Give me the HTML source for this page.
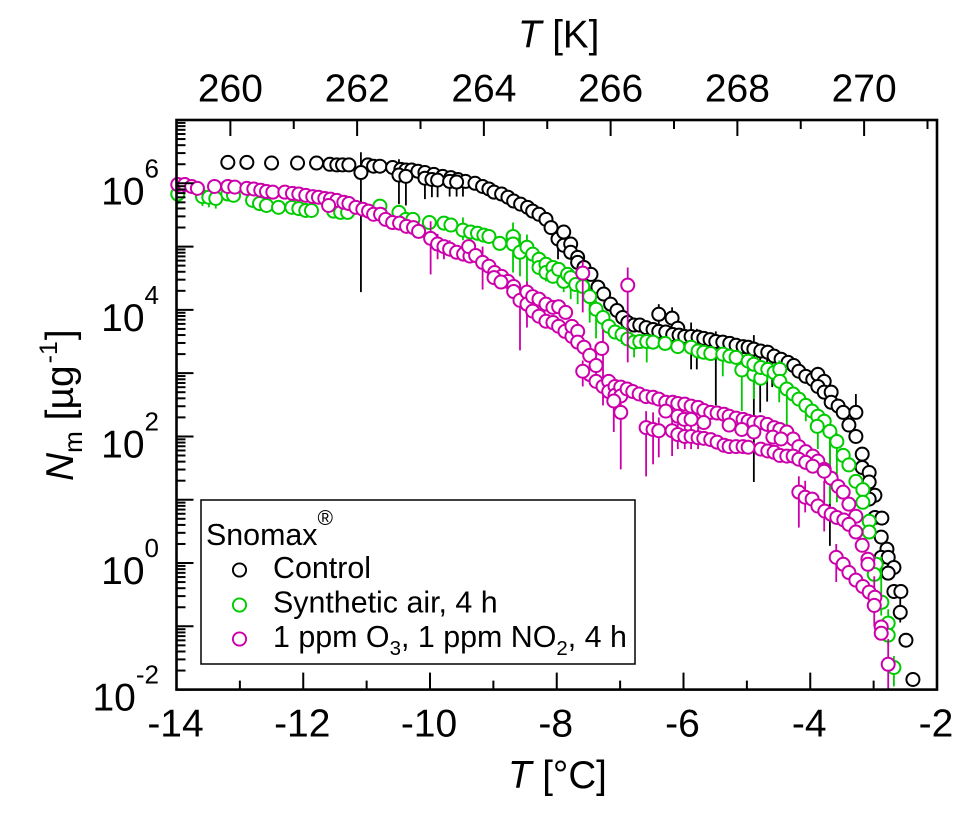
<!DOCTYPE html>
<html lang="en">
<head>
<meta charset="utf-8">
<title>Snomax ice nucleation spectra</title>
<style>
html,body{margin:0;padding:0;background:#fff;width:977px;height:815px;overflow:hidden}
svg{display:block}
text{font-family:"Liberation Sans",sans-serif;fill:#000}
</style>
</head>
<body>
<svg id="chart" xmlns="http://www.w3.org/2000/svg" width="977" height="815" viewBox="0 0 977 815">
  <g id="series-layer"></g>
  <g id="axis-layer"></g>
  <text x="518" y="47.5" font-size="38.5"><tspan font-style="italic">T</tspan> [K]</text>
  <text x="508" y="788" font-size="38.5"><tspan font-style="italic">T</tspan> [°C]</text>
  <text transform="translate(73 481) rotate(-90)" font-size="39"><tspan font-style="italic">N</tspan><tspan font-size="26" dy="9">m</tspan><tspan dy="-9"> [µg</tspan><tspan font-size="25" dy="-16" dx="2">-1</tspan><tspan dy="16" dx="1">]</tspan></text>
  <g>
    <rect x="201" y="500" width="434" height="164" fill="#fff" stroke="#000" stroke-width="1.5"/>
    <text x="206" y="545" font-size="30.4">Snomax<tspan font-size="21" dy="-20" dx="0">®</tspan></text>
    <circle cx="239.5" cy="570" r="6.6" fill="#fff" stroke="#000" stroke-width="1.9"/>
    <text x="273" y="578" font-size="30.4">Control</text>
    <circle cx="239.5" cy="605" r="6.6" fill="#fff" stroke="#00cc00" stroke-width="1.9"/>
    <text x="273" y="612.7" font-size="30.4">Synthetic air, 4 h</text>
    <circle cx="239.5" cy="639" r="6.6" fill="#fff" stroke="#cc00aa" stroke-width="1.9"/>
    <text x="273" y="647" font-size="30.4">1 ppm O<tspan font-size="20.5" dy="8">3</tspan><tspan dy="-8">, 1 ppm NO</tspan><tspan font-size="20.5" dy="8">2</tspan><tspan dy="-8">, 4 h</tspan></text>
  </g>
</svg>
<script>
// Axis values
const xTickValues = [-14, -12, -10, -8, -6, -4, -2];
const xMinorTickValues = [-13, -11, -9, -7, -5, -3];
const topTickKelvin = [260, 262, 264, 266, 268, 270];
const topMinorKelvin = [259, 261, 263, 265, 267, 269, 271];
const yTickExponents = [-2, 0, 2, 4, 6];
const yDecades = [-2, -1, 0, 1, 2, 3, 4, 5, 6];
const yMinorMultipliers = [2, 3, 4, 5, 6, 7, 8, 9];

// Control series: temperature in deg C, log10 of Nm
const controlT = [-13.19,-12.89,-12.50,-12.09,-11.79,-11.58,-11.47,-11.38,-11.28,-10.98,-10.89,-10.79,-10.59,-10.46,-10.38,-10.29,-10.19,-10.08,-9.94,-9.80,-9.67,-9.56,-9.44,-11.09,-10.49,-10.38,-10.08,-9.97,-9.88,-9.69,-9.58,-9.29,-9.17,-9.07,-8.99,-8.87,-8.77,-8.68,-8.57,-8.46,-8.38,-8.28,-8.17,-8.09,-7.98,-7.89,-7.89,-7.78,-7.78,-7.67,-7.67,-7.57,-7.46,-7.35,-7.26,-7.15,-7.05,-6.96,-6.88,-6.78,-6.69,-6.59,-6.48,-6.39,-6.18,-6.09,-6.39,-6.28,-6.17,-6.07,-5.98,-5.88,-5.77,-5.68,-5.58,-5.49,-5.38,-5.27,-5.17,-5.06,-4.98,-4.89,-4.78,-4.67,-4.57,-4.46,-4.35,-4.26,-4.18,-4.07,-3.96,-3.88,-3.78,-3.88,-3.78,-3.67,-3.67,-3.56,-3.48,-3.28,-3.39,-3.28,-3.18,-3.18,-3.07,-3.07,-2.98,-3.07,-2.98,-2.87,-2.88,-2.79,-2.88,-2.77,-2.68,-2.77,-2.68,-2.57,-2.58,-2.49,-2.38];
const controlLogN = [6.33,6.33,6.32,6.32,6.32,6.30,6.29,6.29,6.29,6.29,6.27,6.27,6.25,6.22,6.21,6.21,6.19,6.17,6.14,6.11,6.09,6.06,6.03,6.17,6.13,6.11,6.08,6.06,6.05,6.03,6.02,6.00,5.95,5.91,5.86,5.83,5.78,5.72,5.67,5.62,5.56,5.51,5.43,5.30,5.12,5.23,5.02,5.04,4.91,4.83,4.75,4.67,4.56,4.36,4.25,4.09,3.99,3.88,3.80,3.76,3.76,3.72,3.69,3.93,3.87,3.71,3.66,3.65,3.61,3.60,3.58,3.58,3.57,3.55,3.53,3.50,3.49,3.47,3.44,3.42,3.41,3.38,3.35,3.33,3.27,3.22,3.17,3.12,3.03,2.95,2.90,2.98,2.87,2.79,2.70,2.70,2.54,2.48,2.38,2.38,2.18,2.00,1.72,1.51,1.43,1.28,1.07,1.01,0.72,0.71,0.41,0.22,0.09,0.09,-0.07,-0.16,-0.45,-0.45,-0.78,-1.22,-1.84];
const controlErrT = [-11.09,-10.49,-10.38,-10.08,-9.97,-9.88,-9.69,-9.58,-9.48,-7.98,-6.39,-6.18,-5.88,-5.79,-5.49,-4.89,-4.79,-4.68,-4.60,-3.88,-3.69,-3.28,-2.58];
const controlErrLow = [4.28,5.67,5.65,5.75,5.78,5.78,5.79,5.79,5.79,4.80,3.77,3.70,3.06,3.06,2.49,1.28,2.38,2.55,2.78,2.80,0.27,2.30,-0.94];
const controlErrHigh = [6.49,6.38,6.25,6.15,6.12,6.12,6.10,6.10,6.10,5.25,4.09,4.04,3.80,3.70,3.66,3.60,3.45,3.45,3.40,3.10,2.30,2.67,-0.52];

// Synthetic air series
const airT = [-13.98,-13.59,-13.49,-13.38,-13.19,-13.10,-12.80,-12.69,-12.58,-12.39,-12.18,-12.07,-11.96,-11.87,-11.52,-11.41,-11.30,-10.79,-10.49,-10.38,-10.27,-10.01,-9.78,-9.67,-9.48,-9.36,-9.25,-9.15,-9.07,-8.90,-8.69,-8.69,-8.58,-8.47,-8.38,-8.28,-8.28,-8.17,-8.17,-8.06,-8.06,-7.97,-7.89,-7.83,-7.78,-7.70,-7.59,-7.48,-7.38,-7.27,-7.18,-7.08,-6.97,-6.88,-6.78,-6.69,-6.58,-6.48,-6.29,-6.09,-5.88,-5.77,-5.68,-5.57,-5.38,-5.27,-5.17,-5.08,-4.98,-4.89,-4.89,-4.78,-4.78,-4.67,-4.57,-4.48,-4.48,-4.37,-4.27,-4.18,-4.07,-3.97,-3.88,-3.78,-3.89,-3.69,-3.58,-3.48,-3.39,-3.28,-3.17,-3.17,-3.07,-3.07,-2.96,-2.99,-2.87,-2.77,-2.77,-2.68];
const airLogN = [5.83,5.79,5.78,5.76,5.83,5.81,5.73,5.68,5.65,5.62,5.62,5.60,5.57,5.57,5.56,5.54,5.54,5.64,5.54,5.43,5.43,5.38,5.37,5.34,5.26,5.23,5.21,5.18,5.16,5.05,5.16,5.04,4.91,4.99,4.88,4.80,4.67,4.72,4.59,4.67,4.53,4.64,4.45,4.56,4.51,4.40,4.37,4.21,4.01,3.88,3.74,3.65,3.61,3.54,3.49,3.50,3.50,3.49,3.47,3.42,3.41,3.35,3.33,3.31,3.30,3.27,3.25,3.05,3.19,2.98,3.14,2.92,3.09,3.06,3.01,3.06,2.87,2.75,2.67,2.59,2.49,2.40,2.32,2.24,2.16,2.08,1.92,1.70,1.55,1.29,1.16,0.96,0.66,0.49,-0.02,-0.18,-0.62,-0.95,-1.14,-1.65];
const airErrT = [-13.98,-13.59,-13.49,-13.38,-9.48,-8.69,-8.58,-8.47,-8.17,-7.89,-7.78,-7.67,-7.48,-7.38,-6.97,-6.78,-6.58,-5.38,-5.08,-4.89,-4.49,-4.37,-4.07,-3.88,-3.69,-3.58,-2.88,-2.77,-2.68];
const airErrLow = [5.67,5.64,5.62,5.60,5.10,4.59,4.53,4.40,4.45,4.28,4.17,4.09,3.80,3.55,3.46,3.25,3.17,2.95,2.40,2.59,2.54,2.16,2.24,1.80,0.93,0.96,-0.83,-1.30,-1.95];
const airErrHigh = [5.95,5.90,5.88,5.86,5.46,5.38,5.20,5.19,4.80,4.60,4.65,4.50,4.35,4.15,3.75,3.60,3.60,3.40,3.15,3.25,3.20,2.85,2.60,2.45,2.25,2.05,0.10,-0.73,-1.47];

// Ozone + NO2 series
const ozoneT = [-13.98,-13.87,-13.76,-13.67,-13.40,-13.19,-13.08,-12.89,-12.78,-12.67,-12.58,-12.48,-12.29,-12.17,-12.07,-11.96,-11.85,-11.76,-11.66,-11.57,-11.47,-11.36,-11.28,-11.60,-11.17,-11.06,-10.97,-10.89,-10.78,-10.70,-10.59,-10.48,-10.37,-10.26,-10.18,-9.99,-9.88,-9.78,-9.69,-9.58,-9.47,-9.37,-9.39,-9.28,-9.17,-9.07,-8.98,-8.87,-8.77,-8.99,-8.88,-8.68,-8.68,-8.58,-8.47,-8.47,-8.38,-8.38,-8.28,-8.28,-8.17,-8.17,-8.06,-8.06,-7.97,-7.97,-7.86,-7.87,-7.76,-7.76,-7.67,-7.67,-7.59,-7.57,-7.48,-7.48,-7.59,-7.38,-7.38,-7.29,-7.27,-7.18,-7.18,-7.08,-7.08,-6.99,-6.99,-7.10,-6.99,-6.88,-6.89,-6.80,-6.70,-6.59,-6.48,-6.39,-6.28,-6.17,-6.09,-5.98,-5.88,-5.77,-5.68,-5.57,-5.47,-5.36,-5.28,-5.17,-5.06,-4.98,-4.89,-4.78,-4.68,-4.57,-4.48,-4.37,-4.27,-4.18,-4.07,-3.96,-3.88,-3.78,-3.67,-3.56,-3.48,-3.39,-3.28,-6.28,-6.09,-5.99,-5.88,-5.68,-5.28,-5.08,-4.89,-4.59,-4.46,-6.59,-6.48,-6.39,-6.18,-6.09,-5.98,-5.88,-5.77,-5.68,-5.57,-5.47,-5.36,-5.28,-5.17,-5.06,-4.98,-4.78,-4.67,-4.57,-4.48,-4.37,-4.27,-4.18,-4.07,-3.96,-3.78,-4.18,-4.08,-3.97,-3.88,-3.77,-3.67,-3.58,-3.47,-3.39,-3.28,-3.18,-3.09,-3.09,-3.59,-3.48,-3.39,-3.28,-3.17,-3.07,-2.98,-2.99,-2.88,-2.88,-2.77];
const ozoneLogN = [5.98,5.98,5.95,5.92,5.95,5.95,5.94,5.92,5.91,5.89,5.87,5.86,5.86,5.84,5.83,5.81,5.79,5.78,5.76,5.75,5.73,5.70,5.68,5.65,5.62,5.59,5.56,5.51,5.51,5.43,5.38,5.37,5.32,5.30,5.24,5.13,5.04,5.00,4.96,4.91,4.88,4.85,5.00,4.86,4.75,4.69,4.59,4.53,4.45,4.51,4.44,4.37,4.29,4.15,4.28,4.09,4.21,3.98,4.17,3.90,4.09,3.82,4.04,3.80,4.05,3.74,3.96,3.66,3.58,3.74,3.66,3.49,4.58,3.41,3.28,2.98,3.03,3.12,2.87,3.39,2.79,2.87,2.71,2.79,2.65,2.78,2.64,2.56,2.38,4.39,2.75,2.71,2.67,2.63,2.62,2.59,2.54,2.54,2.52,2.51,2.48,2.46,2.41,2.38,2.37,2.35,2.32,2.29,2.27,2.24,2.22,2.22,2.19,2.14,2.11,2.07,1.96,1.84,1.76,1.69,1.61,1.48,1.34,1.21,1.12,0.93,0.74,2.40,2.32,2.27,2.27,2.22,2.18,2.11,2.07,1.99,1.96,2.14,2.11,2.09,2.09,2.03,2.00,2.00,1.98,1.97,1.95,1.91,1.86,1.84,1.84,1.84,1.83,1.80,1.77,1.75,1.70,1.69,1.69,1.64,1.59,1.53,1.45,1.12,1.04,1.01,0.90,0.82,0.77,0.72,0.68,0.61,0.49,0.28,0.06,-0.02,0.09,-0.02,-0.15,-0.27,-0.37,-0.46,-0.54,-0.67,-1.01,-1.11,-1.60];
const ozoneErrT = [-9.99,-9.88,-9.78,-9.69,-9.17,-8.58,-8.47,-7.59,-6.88,-7.27,-7.59,-6.99,-7.10,-6.59,-6.48,-6.39,-6.18,-6.09,-5.98,-5.88,-5.77,-4.18,-4.08,-3.78,-3.59,-2.99,-2.77];
const ozoneErrLow = [4.56,4.80,4.80,4.84,4.32,3.36,3.72,3.96,3.17,2.49,2.79,1.48,2.07,1.37,1.56,1.67,1.69,1.80,1.80,1.80,1.80,0.56,0.80,0.50,-0.30,-1.00,-2.00];
const ozoneErrHigh = [5.40,5.20,5.10,5.10,5.00,4.30,4.45,4.77,4.67,3.69,3.20,2.80,2.80,2.40,2.38,2.30,2.30,2.20,2.20,2.20,2.15,1.37,1.30,1.30,0.30,-0.21,-1.20];

const plotLeft = 176.5;
const plotRight = 937;
const plotTop = 120;
const plotBottom = 689.6;
const svgNS = 'http://www.w3.org/2000/svg';
const axisLayer = document.getElementById('axis-layer');
const seriesLayer = document.getElementById('series-layer');

function xScale(t) { return plotLeft + (t + 14) * (plotRight - plotLeft) / 12; }
function yScale(logN) { return plotBottom - (logN + 2) * (plotBottom - plotTop) / 9; }
function kelvinToC(k) { return k - 273.15; }

function makeEl(tag, parent) {
  const el = document.createElementNS(svgNS, tag);
  parent.appendChild(el);
  return el;
}
function setAll(el, attrs) {
  Object.keys(attrs).forEach(function (k) { el.setAttribute(k, attrs[k]); });
}

function drawTick(x1, y1, x2, y2, width, name) {
  const tick = makeEl('line', axisLayer);
  setAll(tick, { x1: x1, y1: y1, x2: x2, y2: y2, stroke: '#000', 'stroke-width': width });
  
  
}

function drawSeries(name, color, temps, logs, errT, errLow, errHigh) {
  const group = makeEl('g', seriesLayer);
  
  
  errT.forEach(function (t, i) {
    const bar = makeEl('line', group);
    setAll(bar, { x1: xScale(t), x2: xScale(t), y1: yScale(errLow[i]), y2: yScale(errHigh[i]), stroke: color, 'stroke-width': 1.8 });
    
    
  });
  temps.forEach(function (t, i) {
    const dot = makeEl('circle', group);
    setAll(dot, { cx: xScale(t), cy: yScale(logs[i]), r: 6.5, fill: '#fff', stroke: color, 'stroke-width': 2 });
    
    
  });
}

drawSeries('control', '#000000', controlT, controlLogN, controlErrT, controlErrLow, controlErrHigh);
drawSeries('synthetic-air', '#00cc00', airT, airLogN, airErrT, airErrLow, airErrHigh);
drawSeries('ozone-no2', '#cc00aa', ozoneT, ozoneLogN, ozoneErrT, ozoneErrLow, ozoneErrHigh);

// Plot frame
const frame = makeEl('rect', axisLayer);
setAll(frame, { x: plotLeft, y: plotTop, width: plotRight - plotLeft, height: plotBottom - plotTop, fill: 'none', stroke: '#000', 'stroke-width': 2.6 });



// Bottom axis
xTickValues.forEach(function (t) {
  drawTick(xScale(t), plotBottom, xScale(t), plotBottom - 17, 2, 'bottom-major-tick');
  const label = makeEl('text', axisLayer);
  setAll(label, { x: xScale(t) - 1, y: 736.7, 'font-size': 39, 'text-anchor': 'middle' });
  label.textContent = String(t);
  
  
});
xMinorTickValues.forEach(function (t) {
  drawTick(xScale(t), plotBottom, xScale(t), plotBottom - 9, 2, 'bottom-minor-tick');
});

// Top axis
topTickKelvin.forEach(function (k) {
  const x = xScale(kelvinToC(k));
  drawTick(x, plotTop, x, plotTop + 16, 2, 'top-major-tick');
  const label = makeEl('text', axisLayer);
  setAll(label, { x: x, y: 101.7, 'font-size': 39, 'text-anchor': 'middle' });
  label.textContent = String(k);
  
  
});
topMinorKelvin.forEach(function (k) {
  const x = xScale(kelvinToC(k));
  if (x > plotLeft && x < plotRight) {
    drawTick(x, plotTop, x, plotTop + 9, 2, 'top-minor-tick');
  }
});

// Left axis
yDecades.forEach(function (d) {
  drawTick(plotLeft, yScale(d), plotLeft + 17, yScale(d), 2, 'left-major-tick');
  yMinorMultipliers.forEach(function (m) {
    const v = d + Math.log10(m);
    drawTick(plotLeft, yScale(v), plotLeft + 9, yScale(v), 2, 'left-minor-tick');
  });
});
yTickExponents.forEach(function (e) {
  const label = makeEl('text', axisLayer);
  const y = yScale(e) + 21;
  setAll(label, { x: 159, y: y, 'font-size': 39, 'text-anchor': 'end' });
  const sup = document.createElementNS(svgNS, 'tspan');
  const base = document.createElementNS(svgNS, 'tspan');
  base.textContent = '10';
  setAll(sup, { 'font-size': 26, dy: -27 });
  sup.textContent = String(e);
  label.appendChild(base);
  label.appendChild(sup);
  
  
});
</script>
</body>
</html>
